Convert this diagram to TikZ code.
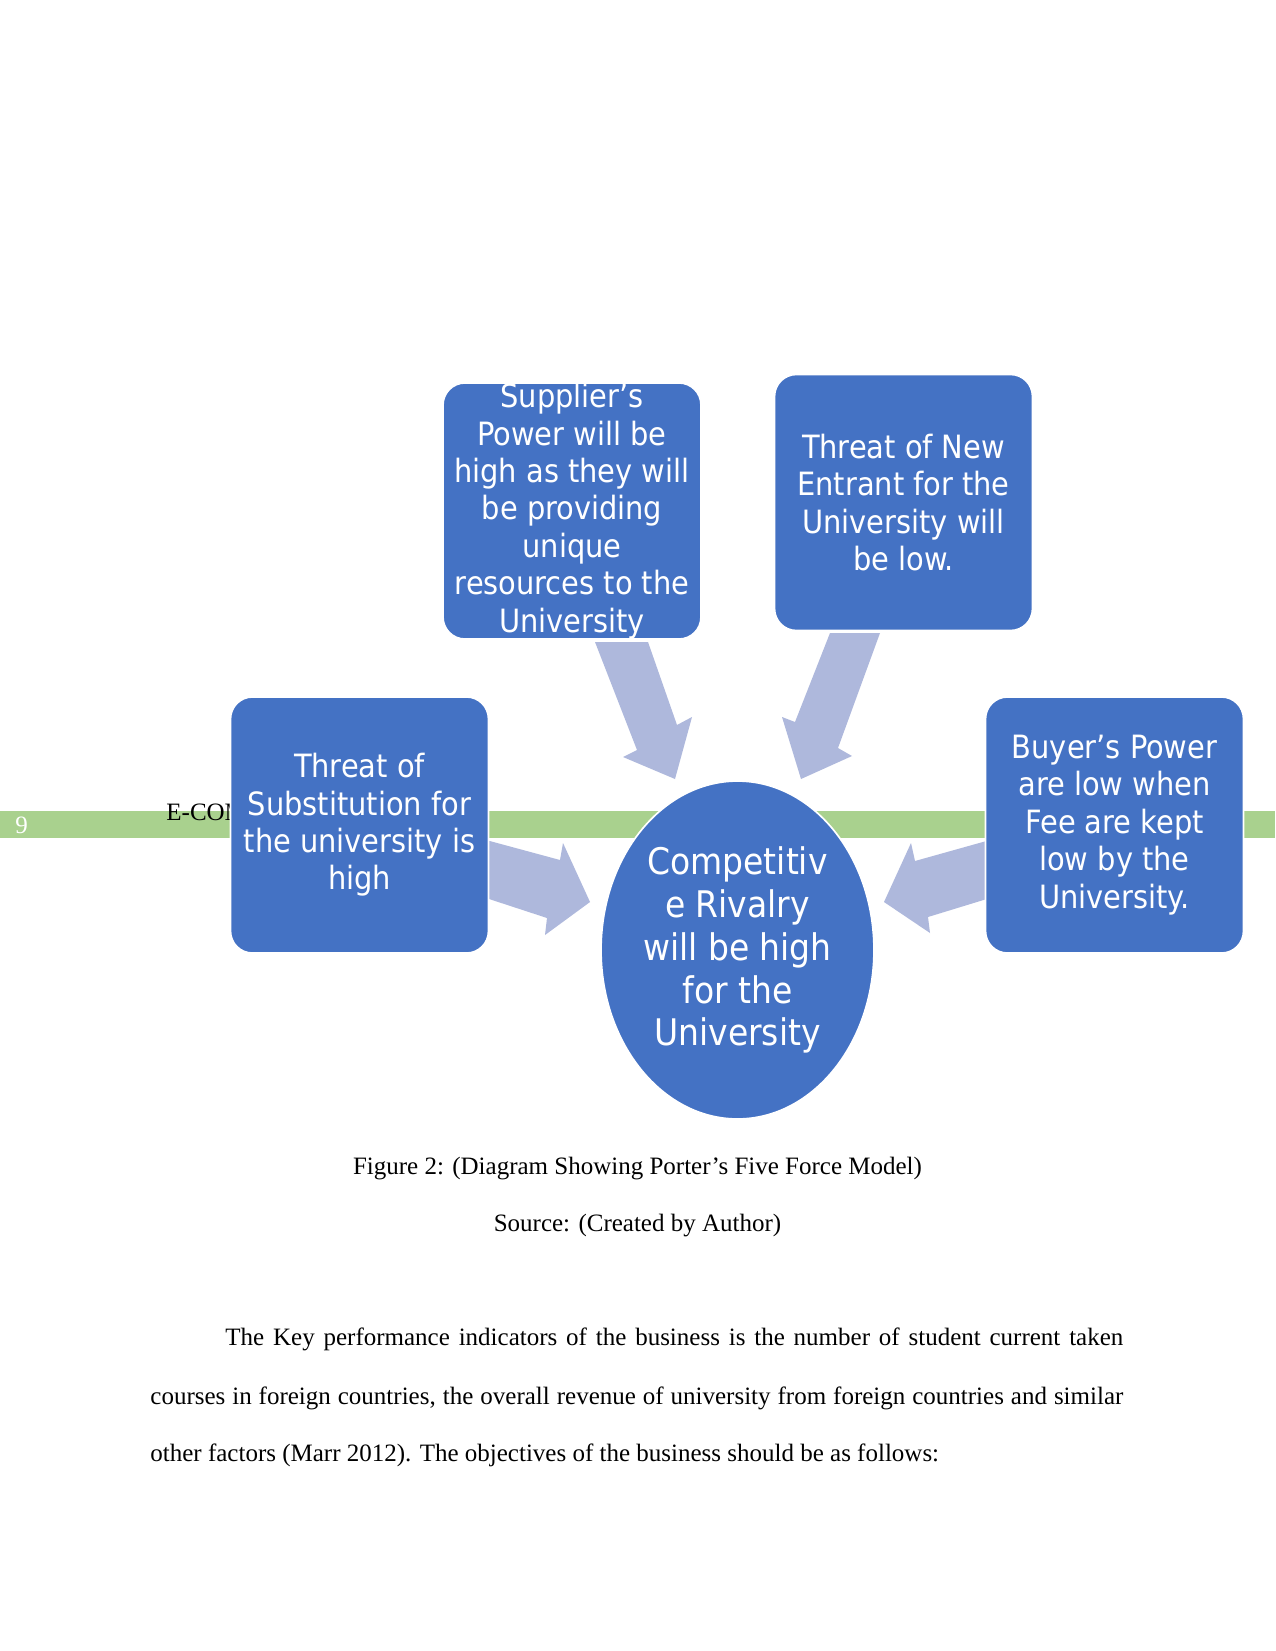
\documentclass[tikz,border=0pt]{standalone}
\usepackage{fontspec}
\setmainfont{Liberation Serif}
\newfontfamily\boxfont{DejaVu Sans Condensed}
\usetikzlibrary{shapes.geometric}
\definecolor{boxblue}{HTML}{4472C4}
\definecolor{arrowblue}{HTML}{AEB8DC}
\definecolor{bargreen}{HTML}{A9D18E}
\begin{document}
\begin{tikzpicture}[x=0.48pt,y=-0.48pt,
  forcebox/.style={draw=white, line width=0.8pt, fill=boxblue, rounded corners=10.5pt,
    minimum width=123.8pt, minimum height=122.9pt, inner sep=0pt},
  forcetext/.style={text=white, align=center, inner sep=0pt,
    font=\boxfont\fontsize{15.4}{17.95}\selectfont},
  centretext/.style={text=white, align=center, inner sep=0pt,
    font=\boxfont\fontsize{17.6}{20.6}\selectfont},
  blockarrow/.style={fill=arrowblue},
  bodytext/.style={font=\fontsize{12}{14}\selectfont, anchor=base west, inner sep=0pt},
  captiontext/.style={font=\fontsize{12}{14}\selectfont, anchor=base, inner sep=0pt}
]
\useasboundingbox (0,0) rectangle (1275,1651);
\fill[white] (0,0) rectangle (1275,1651);
% header bar
\fill[bargreen] (0,811) rectangle (1275,838);
\node[font=\fontsize{12}{14}\selectfont, text=white, anchor=base west, inner sep=0pt] (pagenum) at (15,833) {9};
\begin{scope}
\clip (0,780) rectangle (230,840);
\node[font=\fontsize{12}{14}\selectfont, anchor=base west, inner sep=0pt] (header) at (166,820) {E-COM};
\end{scope}
% block arrows
\fill[blockarrow] (595,642) -- (648,642) -- (677,725) -- (692,717) -- (675,779) -- (623,757) -- (637,750) -- cycle;
\fill[blockarrow] (830,633) -- (880,633) -- (838,748) -- (852,756) -- (801,779) -- (782,717) -- (795,722) -- cycle;
\fill[blockarrow] (486,840) -- (560,860) -- (563,843) -- (590,902) -- (545,935) -- (547,918) -- (486,898) -- cycle;
\fill[blockarrow] (990,840) -- (915,861) -- (911,843) -- (884,902) -- (930,933) -- (928,917) -- (990,898) -- cycle;
% boxes
\node[forcebox] (sup) at (572,511) {};
\node[forcetext] (suptext) at (sup.center) {Supplier’s\\Power will be\\high as they will\\be providing\\unique\\resources to the\\University};
\node[forcebox] (new) at (903.5,502.5) {};
\node[forcetext] (newtext) at (new.center) {Threat of New\\Entrant for the\\University will\\be low.};
\node[forcebox] (sub) at (359.5,825) {};
\node[forcetext] (subtext) at (sub.center) {Threat of\\Substitution for\\the university is\\high};
\node[forcebox] (buy) at (1114.5,825) {};
\node[forcetext] (buytext) at (buy.center) {Buyer’s Power\\are low when\\Fee are kept\\low by the\\University.};
\node[ellipse, draw=white, line width=0.8pt, fill=boxblue, minimum width=131pt, minimum height=162.2pt, inner sep=0pt] (rival) at (737.5,950) {};
\node[centretext] (rivaltext) at (rival.center) {Competitiv\\e Rivalry\\will be high\\for the\\University};
% captions
\node[captiontext] (cap1) at (637.5,1174) {Figure 2: (Diagram Showing Porter’s Five Force Model)};
\node[captiontext] (cap2) at (637.5,1231) {Source: (Created by Author)};
% body text
\node[bodytext] (line1) at (225,1345) {\makebox[431pt][s]{The Key performance indicators of the business is the number of student current taken}};
\node[bodytext] (line2) at (150,1404) {\makebox[467pt][s]{courses in foreign countries, the overall revenue of university from foreign countries and similar}};
\node[bodytext] (line3) at (150,1461) {other factors (Marr 2012). The objectives of the business should be as follows:};
\end{tikzpicture}
\end{document}
